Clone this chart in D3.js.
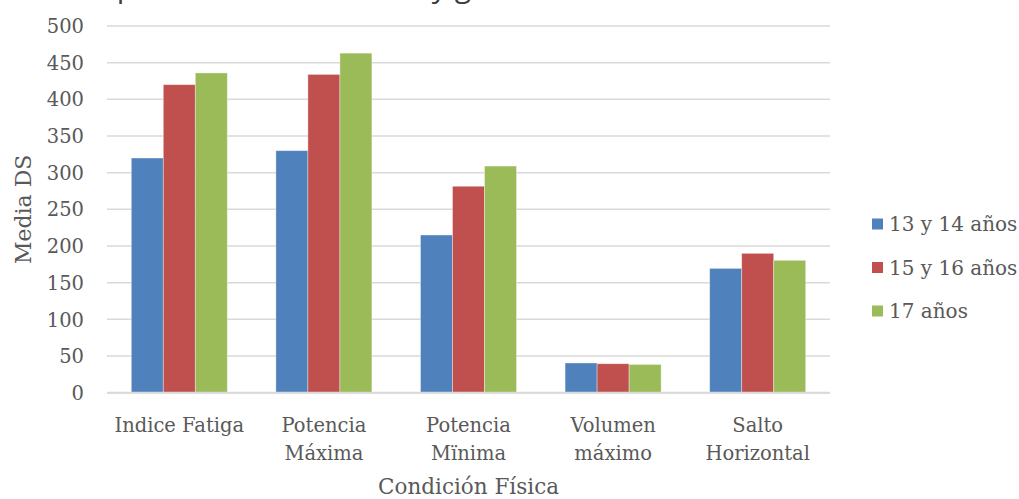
<!DOCTYPE html>
<html>
<head>
<meta charset="utf-8">
<script src="https://cdn.jsdelivr.net/npm/d3@7/dist/d3.min.js"></script>
<style>
  html, body { margin: 0; padding: 0; background: #fff; }
  svg { display: block; }
</style>
</head>
<body>
<svg id="chart" width="1019" height="499"></svg>
<script>
// Categories (multi-line labels use "\n")
const categories = ["Indice Fatiga", "Potencia\nMáxima", "Potencia\nMïnima", "Volumen\nmáximo", "Salto\nHorizontal"];
const seriesNames = ["13 y 14 años", "15 y 16 años", "17 años"];
const seriesColors = ["#4F81BD", "#C0504D", "#9BBB59"];

// Means per age group
const values13y14 = [320, 330, 215, 40.5, 169.5];
const values15y16 = [420, 434, 281.5, 39.5, 190];
const values17 = [436, 463, 309, 38.5, 180.5];

const yTicks = [0, 50, 100, 150, 200, 250, 300, 350, 400, 450, 500];

const titleText = "Comparativo entre edades y género";
const yTitle = "Media DS";
const xTitle = "Condición Física";

const seriesValues = [values13y14, values15y16, values17];

const svg = d3.select("#chart");
const textColor = "#595959";
const serif = "'DejaVu Serif', serif";

const plot = { left: 107, right: 830, top: 26, bottom: 392.7 };

const y = d3.scaleLinear().domain([0, 500]).range([plot.bottom, plot.top]);
const x = d3.scaleBand().domain(categories).range([plot.left, plot.right])
  .paddingInner(0.336).paddingOuter(0.168);
const xs = d3.scaleBand().domain(seriesNames).range([0, x.bandwidth()]);

// Gridlines
svg.append("g").selectAll("line").data(yTicks).join("line")
  .attr("x1", plot.left).attr("x2", plot.right)
  .attr("y1", d => y(d)).attr("y2", d => y(d))
  .attr("stroke", "#d9d9d9").attr("stroke-width", 1.5);

// Y axis tick labels
const yAxis = d3.axisLeft(y).tickValues(yTicks).tickSize(0).tickPadding(0);
const gy = svg.append("g").attr("transform", `translate(84,0)`).call(yAxis);
gy.select(".domain").remove();
gy.selectAll("text").attr("font-family", serif).attr("font-size", 19.5)
  .attr("fill", textColor).attr("dy", "0.34em");

// Bars
const rows = categories.map((c, i) => ({ cat: c, vals: seriesNames.map((s, j) => ({ s, j, v: seriesValues[j][i] })) }));
svg.append("g").selectAll("g").data(rows).join("g")
  .attr("transform", d => `translate(${x(d.cat)},0)`)
  .selectAll("rect").data(d => d.vals).join("rect")
  .attr("x", d => xs(d.s)).attr("width", xs.bandwidth())
  .attr("y", d => y(d.v)).attr("height", d => y(0) - y(d.v))
  .attr("fill", d => seriesColors[d.j])
  .attr("stroke", "#ffffff").attr("stroke-opacity", 0.45).attr("stroke-width", 0.8);

// Baseline
svg.append("line").attr("x1", plot.left).attr("x2", plot.right)
  .attr("y1", y(0)).attr("y2", y(0)).attr("stroke", "#d9d9d9").attr("stroke-width", 2);

// Category labels
const catG = svg.append("g");
categories.forEach(c => {
  const t = catG.append("text")
    .attr("x", x(c) + x.bandwidth() / 2).attr("y", 432)
    .attr("text-anchor", "middle").attr("font-family", serif)
    .attr("font-size", 19.5).attr("fill", textColor);
  c.split("\n").forEach((line, k) => {
    t.append("tspan").attr("x", x(c) + x.bandwidth() / 2)
      .attr("dy", k === 0 ? 0 : 28).text(line);
  });
});

// Axis titles
svg.append("text").attr("x", (plot.left + plot.right) / 2).attr("y", 494)
  .attr("text-anchor", "middle").attr("font-family", serif).attr("font-size", 21.5)
  .attr("fill", textColor).text(xTitle);
svg.append("text").attr("transform", `translate(31,${(plot.top + plot.bottom) / 2}) rotate(-90)`)
  .attr("text-anchor", "middle").attr("font-family", serif).attr("font-size", 22)
  .attr("fill", textColor).text(yTitle);

// Legend
const legend = svg.append("g").selectAll("g").data(seriesNames).join("g")
  .attr("transform", (d, i) => `translate(872,${224 + i * 43.5})`);
legend.append("rect").attr("x", 0).attr("y", -5.5).attr("width", 11).attr("height", 11)
  .attr("fill", (d, i) => seriesColors[i]);
legend.append("text").attr("x", 17).attr("dy", "0.35em")
  .attr("font-family", serif).attr("font-size", 20).attr("fill", textColor).text(d => d);

// Chart title (sits above the visible area; only its lowest strokes show)
const titleSize = 30;
const title = svg.append("text").attr("font-family", "'Open Sans', sans-serif")
  .attr("font-size", titleSize).attr("fill", "#404040").text(titleText)
  .attr("x", 0).attr("y", 4 - 0.24 * titleSize);
const tn = title.node();
const pIdx = titleText.indexOf("p");
const pStart = tn.getSubStringLength(0, pIdx);
const pW = tn.getSubStringLength(pIdx, 1);
title.attr("x", 126 - (pStart + pW / 2));
</script>
</body>
</html>
